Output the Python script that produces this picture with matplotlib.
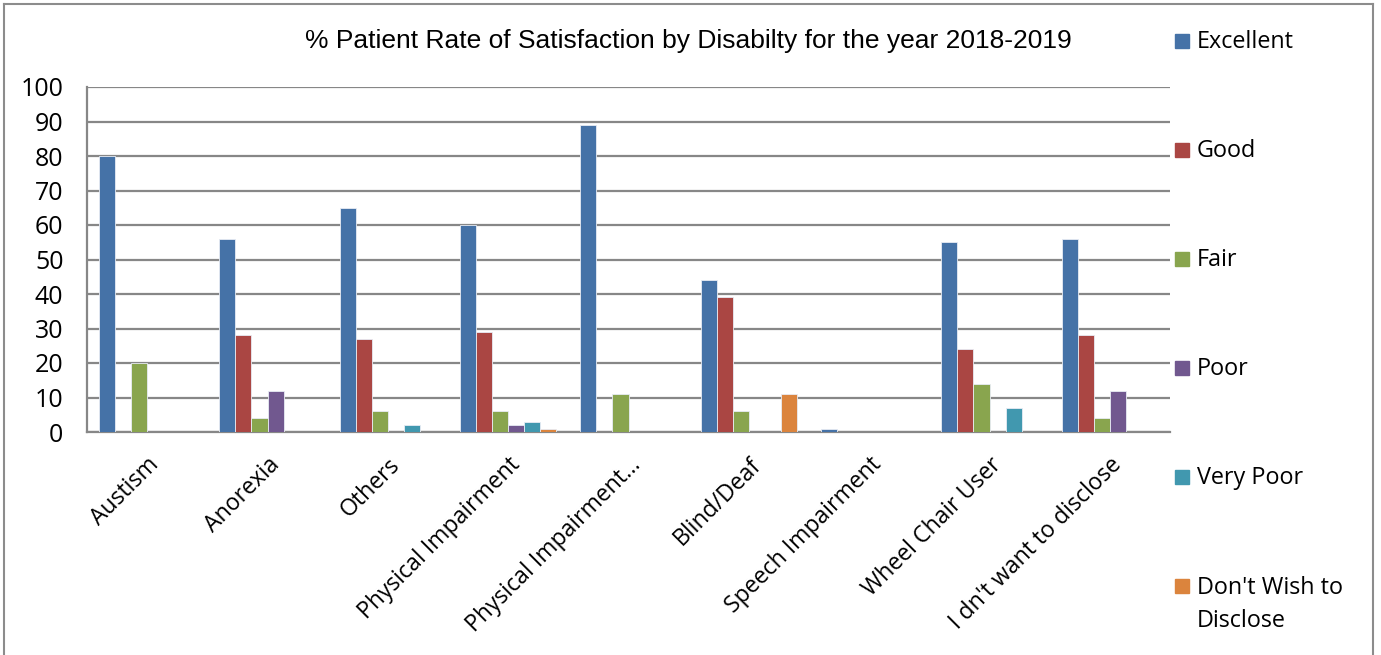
import matplotlib
matplotlib.use("Agg")
import matplotlib.pyplot as plt
import numpy as np
from matplotlib.patches import Rectangle
from matplotlib.lines import Line2D

categories = ["Austism", "Anorexia", "Others", "Physical Impairment",
              "Physical Impairment…", "Blind/Deaf", "Speech Impairment",
              "Wheel Chair User", "I dn't want to disclose"]
series_names = ["Excellent", "Good", "Fair", "Poor", "Very Poor", "Don't Wish to\nDisclose"]
excellent = [80, 56, 65, 60, 89, 44, 1, 55, 56]
good = [0, 28, 27, 29, 0, 39, 0, 24, 28]
fair = [20, 4, 6, 6, 11, 6, 0, 14, 4]
poor = [0, 12, 0, 2, 0, 0, 0, 0, 12]
very_poor = [0, 0, 2, 3, 0, 0, 0, 7, 0]
dont_wish = [0, 0, 0, 1, 0, 11, 0, 0, 0]
yticks = [0, 10, 20, 30, 40, 50, 60, 70, 80, 90, 100]
title = "% Patient Rate of Satisfaction by Disabilty for the year 2018-2019"

series = [excellent, good, fair, poor, very_poor, dont_wish]
colors = ["#4572A7", "#AA4643", "#89A54E", "#71588F", "#4198AF", "#DB843D"]

W, H = 1381, 655
fig = plt.figure(figsize=(W / 100, H / 100), dpi=100)
fig.patch.set_facecolor("white")

ax = fig.add_axes([87 / W, 1 - 432 / H, (1170 - 87) / W, (432 - 87) / H])
n = len(series)
bw = 1.0 / (n + 1.5)
x = np.arange(len(categories))
for i, (vals, c) in enumerate(zip(series, colors)):
    offs = -0.5 + 0.75 * bw + (i + 0.5) * bw
    ax.bar(x + offs, vals, width=bw, color=c, edgecolor="#E8ECF4", linewidth=0.6, zorder=3)

ax.set_xlim(-0.5, len(categories) - 0.5)
ax.set_ylim(0, 100)
ax.set_yticks(yticks)
ax.yaxis.grid(True, color="#878787", linewidth=1.6, zorder=0)
ax.set_axisbelow(True)
for s in ["top", "right"]:
    ax.spines[s].set_visible(False)
ax.spines["left"].set_color("#878787")
ax.spines["left"].set_linewidth(1.6)
ax.spines["bottom"].set_color("#878787")
ax.spines["bottom"].set_linewidth(1.6)
ax.tick_params(axis="y", length=0, labelsize=18, pad=17)
ax.tick_params(axis="x", length=0, pad=15)
ax.set_xticks(x)
ax.set_xticklabels(categories, rotation=45, ha="right", rotation_mode="anchor",
                   fontfamily="Open Sans", fontsize=16.6)
for lab in ax.get_yticklabels():
    lab.set_fontfamily("Open Sans")

fig.text(688 / W, 1 - 41 / H, title, ha="center", va="center",
         fontsize=19, fontfamily="Liberation Sans")

# legend
ys = [41, 150, 259, 368, 477, 586]
for name, c, yy in zip(series_names, colors, ys):
    fig.add_artist(Rectangle((1175 / W, 1 - (yy + 7) / H), 14 / W, 14 / H,
                             transform=fig.transFigure, color=c))
    if "\n" in name:
        fig.text(1197 / W, 1 - (yy - 10) / H, name, ha="left", va="top",
                 fontsize=16.8, fontfamily="Open Sans", linespacing=1.52)
    else:
        fig.text(1197 / W, 1 - (yy + 1) / H, name, ha="left", va="center",
                 fontsize=16.8, fontfamily="Open Sans")

# outer frame
for xs, ysl in [((4, 1373), (4, 4)), ((4, 4), (4, 700)), ((1373, 1373), (4, 700))]:
    fig.add_artist(Line2D([v / W for v in xs], [1 - v / H for v in ysl],
                          transform=fig.transFigure, color="#8C8C8C", linewidth=1.5))

fig.savefig("out.png", dpi=100)
